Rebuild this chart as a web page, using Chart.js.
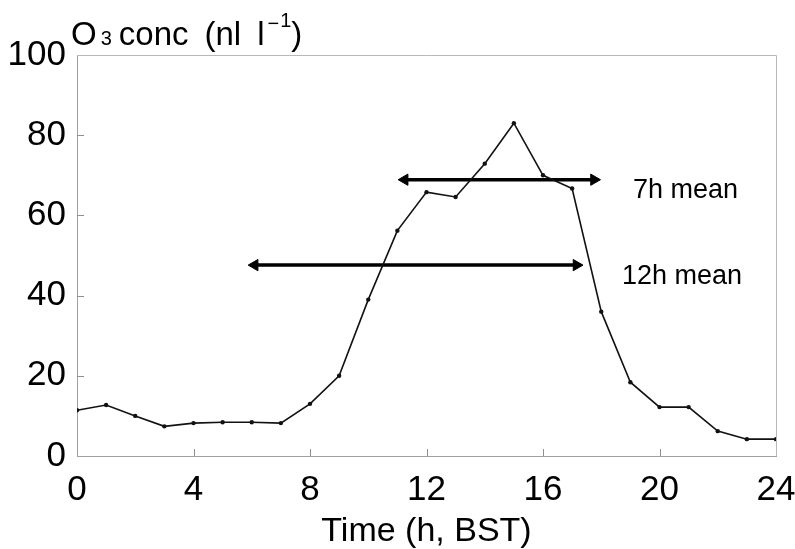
<!DOCTYPE html>
<html>
<head>
<meta charset="utf-8">
<script src="https://cdn.jsdelivr.net/npm/chart.js@4/dist/chart.umd.min.js"></script>
<style>
  html, body { margin: 0; padding: 0; background: #fff; }
  #wrap { width: 795px; height: 549px; }
</style>
</head>
<body>
<div id="wrap"><canvas id="chart"></canvas></div>
<script>
// hourly ozone
const hours = [0, 1, 2, 3, 4, 5, 6, 7, 8, 9, 10, 11, 12, 13, 14, 15, 16, 17, 18, 19, 20, 21, 22, 23, 24];
const ozone = [11.4, 12.7, 10, 7.4, 8.2, 8.4, 8.4, 8.2, 13, 20, 39, 56.2, 65.8, 64.6, 72.9, 83, 70, 66.7, 36, 18.4, 12.2, 12.2, 6.2, 4.2, 4.2];

// mean arrows: [start hour, end hour], level
const mean7hSpan = [11.25, 17.75];
const mean7hLevel = 68.9;
const mean12hSpan = [6.1, 17.15];
const mean12hLevel = 47.6;

const xTicks = [0, 4, 8, 12, 16, 20, 24];
const yTicks = [0, 20, 40, 60, 80, 100];

const FONT = "'Liberation Sans', Arial, Helvetica, sans-serif";

function arrow(span, level) {
    return span.map(h => ({x: h, y: level}));
}

const extras = {
    id: "extras",
    afterDraw(chart) {
        const {ctx, chartArea: a, scales: {x, y}} = chart;
        ctx.save();
        // frame on top and right
        ctx.strokeStyle = "#b8b8b8";
        ctx.lineWidth = 1;
        ctx.beginPath();
        ctx.moveTo(a.left, a.top + 0.5);
        ctx.lineTo(a.right + 0.5, a.top + 0.5);
        ctx.lineTo(a.right + 0.5, a.bottom);
        ctx.stroke();
        // inward tick marks
        ctx.strokeStyle = "#909090";
        ctx.beginPath();
        for (const t of xTicks.slice(1, -1)) {
            const px = Math.round(x.getPixelForValue(t)) + 0.5;
            ctx.moveTo(px, a.bottom);
            ctx.lineTo(px, a.bottom - 7);
        }
        for (const t of yTicks.slice(1, -1)) {
            const py = Math.round(y.getPixelForValue(t)) + 0.5;
            ctx.moveTo(a.left, py);
            ctx.lineTo(a.left + 7, py);
        }
        ctx.stroke();

        // y title: O3 conc (nl l-1)
        ctx.fillStyle = "#000";
        ctx.textBaseline = "alphabetic";
        ctx.textAlign = "left";
        let px = a.left - 6, base = 45;
        const put = (s, size, dy = 0) => {
            ctx.font = size + "px " + FONT;
            ctx.fillText(s, px, base + dy);
            px += ctx.measureText(s).width;
        };
        put("O", 33);
        px += 4;
        put("3", 20);
        px += 7;
        put("conc", 33);
        px += 16;
        put("(nl", 33);
        px += 16;
        put("l", 33);
        px += 3;
        put("\u2212", 20, -15);
        px += 1;
        put("1", 20, -18);
        put(")", 33);

        // mean labels, right edges roughly lined up
        ctx.font = "27px " + FONT;
        ctx.textBaseline = "middle";
        ctx.textAlign = "right";
        ctx.fillText("7h mean", 738, y.getPixelForValue(mean7hLevel) + 11);
        ctx.fillText("12h mean", 742, y.getPixelForValue(mean12hLevel) + 11);
        ctx.restore();
    }
};

const arrowStyle = {
    showLine: true,
    borderColor: "#000",
    backgroundColor: "#000",
    borderWidth: 3.5,
    pointStyle: "triangle",
    pointRadius: 6.5,
    pointRotation: [-90, 90],
    pointBorderWidth: 1
};

new Chart(document.querySelector("#chart"), {
    type: "scatter",
    data: {
        datasets: [
            {
                data: hours.map((h, i) => ({x: h, y: ozone[i]})),
                showLine: true,
                borderColor: "#111",
                backgroundColor: "#111",
                borderWidth: 1.6,
                pointRadius: 2.2,
                pointBorderWidth: 0
            },
            Object.assign({data: arrow(mean7hSpan, mean7hLevel)}, arrowStyle),
            Object.assign({data: arrow(mean12hSpan, mean12hLevel)}, arrowStyle)
        ]
    },
    options: {
        responsive: true,
        maintainAspectRatio: false,
        animation: false,
        events: [],
        layout: {padding: {left: 9, top: 55, right: 19, bottom: 0}},
        plugins: {legend: {display: false}, tooltip: {enabled: false}},
        scales: {
            x: {
                type: "linear",
                min: 0, max: 24,
                afterBuildTicks: s => { s.ticks = xTicks.map(v => ({value: v})); },
                afterFit: s => { s.height = 93; s.paddingLeft = 0; s.paddingRight = 0; },
                grid: {display: false, drawTicks: false},
                border: {color: "#a0a0a0", width: 1},
                ticks: {color: "#000", padding: 13, font: {family: FONT, size: 35}},
                title: {
                    display: true, text: "Time (h, BST)", color: "#000",
                    font: {family: FONT, size: 34, lineHeight: 1}, padding: {top: 0, bottom: 0}
                }
            },
            y: {
                min: 0, max: 100,
                afterBuildTicks: s => { s.ticks = yTicks.map(v => ({value: v})); },
                afterFit: s => { s.width = 68; },
                grid: {display: false, drawTicks: false},
                border: {color: "#a0a0a0", width: 1},
                ticks: {color: "#000", padding: 11, font: {family: FONT, size: 35}}
            }
        }
    },
    plugins: [extras]
});
</script>
</body>
</html>
